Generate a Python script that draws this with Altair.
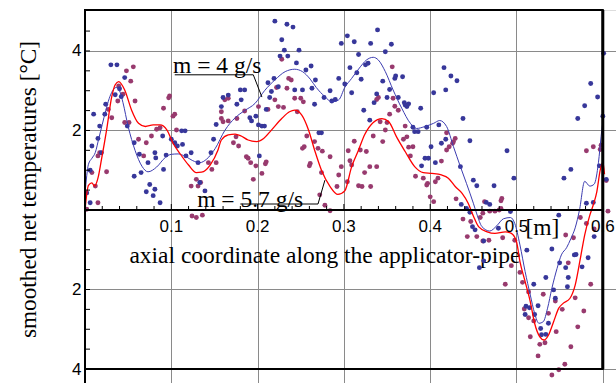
import altair as alt
import pandas as pd

# ---------------- data ----------------
blue_x = [0.030, 0.037, 0.046, 0.040, 0.035, 0.042, 0.024, 0.010, 0.017, 0.023, 0.015, 0.008, 0.019, 0.006, 0.006, 0.002,
          0.049, 0.057, 0.063, 0.073, 0.057, 0.065, 0.075, 0.081, 0.071, 0.079, 0.087, 0.081, 0.082, 0.091, 0.094, 0.090,
          0.100, 0.104, 0.107, 0.112, 0.116, 0.113, 0.117, 0.123, 0.131, 0.133, 0.139, 0.146, 0.149,
          0.220, 0.234, 0.241, 0.228, 0.231, 0.235, 0.226, 0.248, 0.245, 0.256, 0.262, 0.267, 0.263, 0.252, 0.243, 0.266,
          0.277, 0.284, 0.286, 0.290, 0.294, 0.297, 0.219, 0.212, 0.224, 0.216, 0.214, 0.210, 0.185, 0.180, 0.181, 0.176,
          0.166, 0.160, 0.158, 0.152, 0.191, 0.198, 0.193, 0.201, 0.205, 0.208, 0.202, 0.274, 0.271,
          0.304, 0.312, 0.339, 0.331, 0.317, 0.307, 0.315, 0.320, 0.325, 0.328, 0.348, 0.355, 0.345, 0.338, 0.335, 0.350,
          0.353, 0.359, 0.360, 0.368, 0.363, 0.370, 0.373, 0.371, 0.375, 0.389, 0.380, 0.382, 0.386, 0.396, 0.404, 0.418,
          0.416, 0.424, 0.431, 0.323, 0.330, 0.309, 0.301, 0.410, 0.401, 0.394, 0.398, 0.390, 0.406, 0.413, 0.418, 0.446,
          0.438, 0.435, 0.450,
          0.454, 0.474, 0.489, 0.497, 0.555, 0.563, 0.571, 0.579, 0.586, 0.594, 0.601, 0.600, 0.596, 0.604,
          0.436, 0.442, 0.446, 0.449, 0.452, 0.465, 0.469, 0.479, 0.462, 0.457, 0.462, 0.493, 0.512, 0.520, 0.510, 0.515,
          0.525, 0.534, 0.543, 0.541, 0.549, 0.550, 0.557, 0.560, 0.559, 0.567, 0.569, 0.576, 0.583, 0.590, 0.581, 0.589,
          0.528, 0.534, 0.529, 0.521, 0.545, 0.537, 0.511]
blue_y = [3.65, 3.65, 3.33, 3.05, 2.90, 2.85, 2.66, 2.41, 2.11, 2.41, 1.80, 1.61, 1.44, 1.00, 0.18, 0.43,
          2.11, 1.69, 1.40, 1.19, 0.85, 0.94, 0.64, 0.52, 0.46, 0.36, 0.18, 1.44, 1.31, 1.02, 1.38, 1.86,
          1.78, 1.69, 1.61, 1.99, 1.99, 1.65, 1.36, 1.44, 1.19, 0.69, 0.48, 1.44, 1.78,
          4.75, 4.67, 4.60, 4.28, 4.02, 3.87, 3.87, 4.02, 3.70, 3.52, 3.62, 3.27, 3.06, 3.02, 3.02, 2.66,
          2.83, 3.00, 2.74, 2.78, 3.31, 4.19, 3.31, 3.20, 3.10, 2.98, 2.83, 2.53, 3.02, 3.02, 2.77, 2.66,
          2.89, 2.83, 2.60, 2.15, 2.32, 2.36, 2.24, 2.14, 2.11, 2.11, 1.36, 1.94, 1.94,
          4.38, 4.23, 4.53, 4.19, 3.91, 3.58, 3.45, 3.29, 3.65, 3.69, 3.98, 4.17, 3.24, 2.92, 2.70, 2.83,
          3.03, 3.31, 3.37, 3.35, 2.83, 2.70, 2.60, 2.64, 2.67, 2.56, 2.08, 1.97, 1.97, 2.08, 2.95, 3.02,
          3.58, 3.37, 3.25, 2.51, 2.26, 2.95, 3.17, 2.14, 1.59, 1.30, 1.30, 1.11, 1.19, 1.68, 1.78, 1.74,
          2.30, 1.09, 0.75,
          0.61, 0.61, 1.49, 0.80, 0.80, 1.02, 2.30, 2.62, 3.18, 2.84, 3.94, 2.36, 1.11, 0.77,
          0.14, 0.04, -0.06, -0.42, -0.50, 0.19, 0.14, -0.46, -0.78, -1.45, -1.28, -0.04, -1.01, -1.87, -2.63, -2.46,
          -2.41, -1.70, -2.01, -0.98, -0.13, -1.33, -1.45, -1.70, -1.93, -1.13, -1.12, -1.43, -1.20, -0.67, 0.17, 0.19,
          -2.98, -3.13, -3.14, -2.63, -2.22, -2.85, -2.42]

purple_x = [0.048, 0.056, 0.053, 0.039, 0.044, 0.038, 0.058, 0.027, 0.031, 0.046, 0.051, 0.017, 0.015, 0.025, 0.008, 0.012,
            0.015, 0.002, 0.062, 0.068, 0.071, 0.077, 0.083, 0.087, 0.091, 0.098, 0.097, 0.102, 0.104, 0.106, 0.123, 0.131,
            0.129, 0.134, 0.124, 0.129, 0.136, 0.143, 0.147,
            0.228, 0.236, 0.239, 0.234, 0.222, 0.220, 0.224, 0.230, 0.243, 0.250, 0.253, 0.246, 0.212, 0.201, 0.166, 0.162,
            0.158, 0.158, 0.160, 0.166, 0.176, 0.185, 0.175, 0.172, 0.178, 0.187, 0.189, 0.192, 0.198, 0.195, 0.210, 0.209,
            0.205, 0.152, 0.257, 0.266, 0.270, 0.252, 0.254, 0.261, 0.260, 0.274, 0.284, 0.275, 0.297, 0.294, 0.292, 0.284,
            0.278, 0.272,
            0.356, 0.340, 0.338, 0.357, 0.359, 0.363, 0.353, 0.342, 0.350, 0.348, 0.334, 0.345, 0.371, 0.373, 0.375, 0.377,
            0.380, 0.369, 0.312, 0.319, 0.326, 0.305, 0.307, 0.309, 0.304, 0.330, 0.338, 0.324, 0.317, 0.321, 0.331, 0.383,
            0.392, 0.397, 0.396, 0.400, 0.404, 0.406, 0.409, 0.413, 0.419, 0.422, 0.426, 0.429, 0.427, 0.419,
            0.589, 0.581, 0.597, 0.598, 0.604, 0.463, 0.482,
            0.430, 0.438, 0.447, 0.458, 0.461, 0.469, 0.475, 0.480, 0.483, 0.482, 0.443, 0.454, 0.461, 0.468, 0.484, 0.498,
            0.494, 0.487, 0.504, 0.507, 0.514, 0.531, 0.509, 0.514, 0.520, 0.537, 0.545, 0.553, 0.516, 0.527, 0.533, 0.525,
            0.546, 0.560, 0.557, 0.566, 0.574, 0.581, 0.568, 0.578, 0.571, 0.563, 0.556, 0.549, 0.541, 0.586, 0.590, 0.606]
purple_y = [3.50, 3.60, 3.24, 3.12, 2.91, 2.74, 2.74, 2.53, 2.32, 2.20, 2.20, 1.44, 1.36, 0.96, 0.94, 0.60,
            0.18, 0.02, 1.78, 1.36, 1.69, 1.86, 2.03, 2.07, 2.56, 2.87, 2.82, 2.36, 2.41, 2.01, 0.60, 0.60,
            0.77, 0.69, -0.15, -0.19, -0.13, 1.19, 1.02,
            3.79, 3.31, 3.27, 3.06, 3.08, 2.77, 2.60, 2.58, 2.81, 2.81, 2.72, 2.47, 2.53, 2.60, 2.81, 2.77,
            2.47, 2.30, 2.22, 2.24, 2.30, 2.49, 1.84, 1.69, 1.61, 1.34, 1.30, 1.19, 1.11, 0.77, 1.21, 1.16,
            0.92, 1.19, 1.86, 1.72, 1.55, 1.55, 1.59, 1.17, 1.11, 0.94, 1.34, 1.48, 1.09, 0.88, 0.59, -0.02,
            0.12, 0.38,
            3.60, 2.83, 2.78, 2.81, 2.61, 2.51, 2.41, 2.22, 2.20, 2.01, 1.86, 1.72, 2.11, 1.84, 1.58, 1.36,
            1.59, 1.78, 1.73, 1.51, 1.47, 1.49, 1.24, 1.13, 0.71, 1.09, 1.09, 0.94, 0.61, 0.59, 0.59, 0.85,
            0.80, 0.67, 0.63, 0.33, 0.21, 0.71, 0.80, 1.23, 1.51, 1.59, 1.68, 1.80, 1.72, 1.94,
            1.59, 1.49, 1.52, 1.63, 0.74, 0.21, 0.23,
            0.28, -0.23, -0.29, -0.19, -0.08, -0.03, -0.03, 0.00, 0.29, 0.04, -0.67, -0.67, -0.78, -0.76, -0.70, -0.76,
            -1.40, -1.87, -1.57, -1.82, -2.06, -2.12, -2.49, -2.71, -2.79, -2.60, -2.29, -2.50, -3.19, -3.38, -3.34, -3.67,
            -3.06, -1.33, -0.63, -0.70, -0.19, -0.34, -2.21, -2.54, -2.94, -3.44, -3.88, -4.02, -4.15, -1.87, -0.48, -0.03]

blue_curve_x = [0.000, 0.004, 0.008, 0.012, 0.016, 0.020, 0.024, 0.028, 0.032, 0.036, 0.040, 0.044, 0.050, 0.058, 0.066,
                0.073, 0.083, 0.093, 0.100, 0.108, 0.116, 0.127, 0.133, 0.141, 0.151, 0.162, 0.174, 0.185, 0.197, 0.208,
                0.220, 0.232, 0.243, 0.252, 0.261, 0.268, 0.278, 0.286, 0.294, 0.301, 0.309, 0.319, 0.326, 0.334, 0.340,
                0.348, 0.357, 0.367, 0.377, 0.384, 0.394, 0.404, 0.411, 0.419, 0.427, 0.435, 0.442, 0.450, 0.454, 0.460,
                0.469, 0.477, 0.485, 0.493, 0.498, 0.504, 0.510, 0.516, 0.521, 0.526, 0.531, 0.536, 0.541, 0.547, 0.552,
                0.558, 0.563, 0.568, 0.573, 0.579, 0.585, 0.590, 0.595, 0.598, 0.601]
blue_curve_y = [0.40, 1.15, 1.30, 1.45, 1.80, 2.15, 2.50, 2.80, 3.00, 3.08, 3.00, 2.70, 2.10, 1.50, 1.10,
                0.96, 1.08, 1.32, 1.40, 1.41, 1.35, 1.22, 1.19, 1.28, 1.55, 2.00, 2.32, 2.50, 2.68, 3.00,
                3.27, 3.48, 3.54, 3.48, 3.29, 3.08, 2.85, 2.72, 2.77, 3.08, 3.31, 3.60, 3.77, 3.84, 3.77,
                3.48, 3.02, 2.56, 2.18, 2.05, 2.10, 2.18, 2.25, 2.10, 1.59, 1.09, 0.67, 0.17, -0.10, -0.42,
                -0.53, -0.40, -0.22, -0.19, -0.34, -0.88, -1.55, -2.14, -2.60, -2.85, -2.81, -2.47, -1.97, -1.47, -1.13,
                -0.95, -0.72, -0.45, 0.00, 0.72, 0.60, 0.65, 1.20, 1.84, 2.40]

red_curve_x = [0.000, 0.004, 0.008, 0.011, 0.015, 0.019, 0.025, 0.031, 0.035, 0.039, 0.046, 0.054, 0.062, 0.070, 0.079,
               0.087, 0.095, 0.102, 0.110, 0.120, 0.129, 0.135, 0.145, 0.154, 0.158, 0.166, 0.174, 0.181, 0.189, 0.199,
               0.207, 0.216, 0.228, 0.237, 0.243, 0.251, 0.259, 0.266, 0.274, 0.284, 0.293, 0.301, 0.309, 0.317, 0.324,
               0.334, 0.344, 0.352, 0.361, 0.371, 0.382, 0.392, 0.402, 0.413, 0.421, 0.429, 0.437, 0.444, 0.450, 0.456,
               0.466, 0.475, 0.487, 0.494, 0.500, 0.504, 0.510, 0.516, 0.521, 0.527, 0.532, 0.537, 0.543, 0.549, 0.554,
               0.562, 0.568, 0.574, 0.579, 0.585, 0.589, 0.593, 0.597, 0.600, 0.602]
red_curve_y = [0.00, 0.62, 0.68, 0.60, 0.80, 1.26, 2.01, 2.85, 3.15, 3.23, 3.02, 2.51, 2.18, 2.10, 2.14,
               2.14, 2.01, 1.68, 1.42, 1.13, 0.94, 0.95, 1.13, 1.50, 1.76, 1.89, 1.91, 1.86, 1.76, 1.72,
               1.80, 2.01, 2.30, 2.47, 2.51, 2.39, 2.01, 1.51, 1.00, 0.59, 0.39, 0.48, 1.09, 1.51, 1.89,
               2.20, 2.30, 2.22, 1.84, 1.47, 1.09, 0.94, 0.92, 0.88, 0.80, 0.59, 0.42, 0.17, -0.15, -0.42,
               -0.55, -0.59, -0.55, -0.59, -0.80, -1.30, -1.80, -2.31, -2.85, -3.19, -3.27, -3.15, -2.81, -2.47, -2.35,
               -2.22, -1.89, -1.22, -0.63, -0.13, 0.13, 0.45, 1.00, 1.20, 0.90]

x_tick_values = [0.1, 0.2, 0.3, 0.4, 0.5, 0.6]
x_tick_labels = ["0.1", "0.2", "0.3", "0.4", "0.5", "0.6"]
x_minor_ticks = [0.02, 0.04, 0.06, 0.08, 0.12, 0.14, 0.16, 0.18, 0.22, 0.24, 0.26, 0.28, 0.32, 0.34, 0.36, 0.38,
                 0.42, 0.44, 0.46, 0.48, 0.52, 0.54, 0.56, 0.58]
y_grid_values = [4, 2, -2, -4]
y_minor_ticks = [4.5, 4, 3.5, 3, 2.5, 2, 1.5, 1, 0.5, -0.5, -1, -1.5, -2, -2.5, -3, -3.5]

x_domain = [0.0, 0.6153]
y_domain = [-4.352, 5.03]
frame_x = [0.0, 0.6]
frame_y = [-4.0, 5.03]

annot_text = ["m = 4 g/s", "m = 5.7 g/s"]
annot_x = [0.102, 0.130]
annot_y = [3.45, 0.08]
# leader segments: x, y, x2, y2
leader_x = [0.104, 0.195, 0.180, 0.270]
leader_y = [3.40, 3.40, 0.15, 0.15]
leader_x2 = [0.195, 0.205, 0.270, 0.278]
leader_y2 = [3.40, 2.84, 0.15, 0.75]

xtitle_text = ["axial coordinate along the applicator-pipe", "[m]"]
xtitle_x = [0.278, 0.530]
xtitle_y = [-1.333, -0.63]

BLUE = "#37379a"
PURPLE = "#983a6e"
SERIF = "Liberation Serif"
SANS = "Liberation Sans"

# ---------------- build ----------------
xs = alt.Scale(domain=x_domain, nice=False, zero=False)
ys = alt.Scale(domain=y_domain, nice=False, zero=False)

blue_df = pd.DataFrame({"x": blue_x, "y": blue_y})
purple_df = pd.DataFrame({"x": purple_x, "y": purple_y})
bc_df = pd.DataFrame({"x": blue_curve_x, "y": blue_curve_y})
rc_df = pd.DataFrame({"x": red_curve_x, "y": red_curve_y})

# grid via axes
grid = alt.Chart(pd.DataFrame({"x": [0.0], "y": [0.0]})).mark_point(opacity=0).encode(
    x=alt.X("x:Q", scale=xs, title=None,
            axis=alt.Axis(values=x_tick_values, grid=True, labels=False, ticks=False, domain=False,
                          gridColor="#8a8a8a", gridWidth=1)),
    y=alt.Y("y:Q", scale=ys,
            axis=alt.Axis(values=y_grid_values, grid=True, ticks=False, domain=False,
                          gridColor="#8a8a8a", gridWidth=1,
                          labelExpr="format(abs(datum.value), 'd')",
                          labelFont=SANS, labelFontSize=17, labelColor="black", labelPadding=4,
                          title="smoothed net temperatures [°C]", titleFont=SERIF, titleFontSize=23.3,
                          titleFontWeight="normal", titleColor="black", titleAngle=270,
                          titleX=-50, titleY=179, titleAlign="center", titleBaseline="alphabetic")),
)

frame = alt.Chart(pd.DataFrame({"x": [frame_x[0]], "x2": [frame_x[1]], "y": [frame_y[0]], "y2": [frame_y[1]]})).mark_rect(
    fill=None, filled=False, stroke="black", strokeWidth=2).encode(
    x=alt.X("x:Q", scale=xs), x2="x2:Q", y=alt.Y("y:Q", scale=ys), y2="y2:Q")

left_ext = alt.Chart(pd.DataFrame({"x": [0.0], "y": [frame_y[0]], "y2": [y_domain[0]]})).mark_rule(
    color="black", strokeWidth=2).encode(x=alt.X("x:Q", scale=xs), y=alt.Y("y:Q", scale=ys), y2="y2:Q")

right_edge = alt.Chart(pd.DataFrame({"x": [frame_x[1]], "y": [frame_y[0]], "y2": [frame_y[1]]})).mark_rule(
    color="black", strokeWidth=3).encode(x=alt.X("x:Q", scale=xs), y=alt.Y("y:Q", scale=ys), y2="y2:Q")

xaxis_line = alt.Chart(pd.DataFrame({"x": [frame_x[0]], "x2": [frame_x[1]], "y": [0.0]})).mark_rule(
    color="black", strokeWidth=2).encode(x=alt.X("x:Q", scale=xs), x2="x2:Q", y=alt.Y("y:Q", scale=ys))

xminor = alt.Chart(pd.DataFrame({"x": x_minor_ticks, "y": [0.0] * len(x_minor_ticks)})).mark_tick(
    orient="vertical", size=4, thickness=1, color="black", yOffset=-2, opacity=1).encode(
    x=alt.X("x:Q", scale=xs), y=alt.Y("y:Q", scale=ys))

xmajor = alt.Chart(pd.DataFrame({"x": x_tick_values, "y": [0.0] * len(x_tick_values)})).mark_tick(
    orient="vertical", size=6, thickness=1, color="black", yOffset=-3, opacity=1).encode(
    x=alt.X("x:Q", scale=xs), y=alt.Y("y:Q", scale=ys))

yticks = alt.Chart(pd.DataFrame({"x": [0.0] * len(y_minor_ticks), "y": y_minor_ticks})).mark_tick(
    orient="horizontal", size=5, thickness=1, color="black", xOffset=2.5, opacity=1).encode(
    x=alt.X("x:Q", scale=xs), y=alt.Y("y:Q", scale=ys))

xlabels = alt.Chart(pd.DataFrame({"x": x_tick_values, "y": [0.0] * 6, "t": x_tick_labels})).mark_text(
    font=SANS, fontSize=17, color="black", align="center", baseline="alphabetic", dy=22).encode(
    x=alt.X("x:Q", scale=xs), y=alt.Y("y:Q", scale=ys), text="t:N")

xtitle = alt.Chart(pd.DataFrame({"x": xtitle_x, "y": xtitle_y, "t": xtitle_text})).mark_text(
    font=SERIF, fontSize=23.5, color="black", align="center", baseline="alphabetic").encode(
    x=alt.X("x:Q", scale=xs), y=alt.Y("y:Q", scale=ys), text="t:N")

purple_pts = alt.Chart(purple_df).mark_circle(size=24, opacity=1, color=PURPLE, clip=True).encode(
    x=alt.X("x:Q", scale=xs), y=alt.Y("y:Q", scale=ys))
blue_pts = alt.Chart(blue_df).mark_circle(size=24, opacity=1, color=BLUE, clip=True).encode(
    x=alt.X("x:Q", scale=xs), y=alt.Y("y:Q", scale=ys))

blue_line = alt.Chart(bc_df).mark_line(color="#3c3cb0", strokeWidth=1, interpolate="monotone", clip=True).encode(
    x=alt.X("x:Q", scale=xs), y=alt.Y("y:Q", scale=ys))
red_line = alt.Chart(rc_df).mark_line(color="#ff0000", strokeWidth=1.3, interpolate="monotone", clip=True).encode(
    x=alt.X("x:Q", scale=xs), y=alt.Y("y:Q", scale=ys))

annots = alt.Chart(pd.DataFrame({"x": annot_x, "y": annot_y, "t": annot_text})).mark_text(
    font=SERIF, fontSize=23.5, color="black", align="left", baseline="alphabetic").encode(
    x=alt.X("x:Q", scale=xs), y=alt.Y("y:Q", scale=ys), text="t:N")

leaders = alt.Chart(pd.DataFrame({"x": leader_x, "y": leader_y, "x2": leader_x2, "y2": leader_y2})).mark_rule(
    color="black", strokeWidth=1).encode(
    x=alt.X("x:Q", scale=xs), y=alt.Y("y:Q", scale=ys), x2="x2:Q", y2="y2:Q")

chart = alt.layer(
    grid, xtitle, purple_pts, blue_pts, blue_line, red_line,
    frame, left_ext, right_edge, xaxis_line, xminor, xmajor, yticks, xlabels, annots, leaders,
).properties(
    width=531, height=373,
    padding={"left": 85, "top": 10, "right": 0, "bottom": 0},
    autosize=alt.AutoSizeParams(type="none"),
).configure_view(strokeWidth=0).configure(background="white")

chart.save("out.html", embed_options={"renderer": "svg", "actions": False})
